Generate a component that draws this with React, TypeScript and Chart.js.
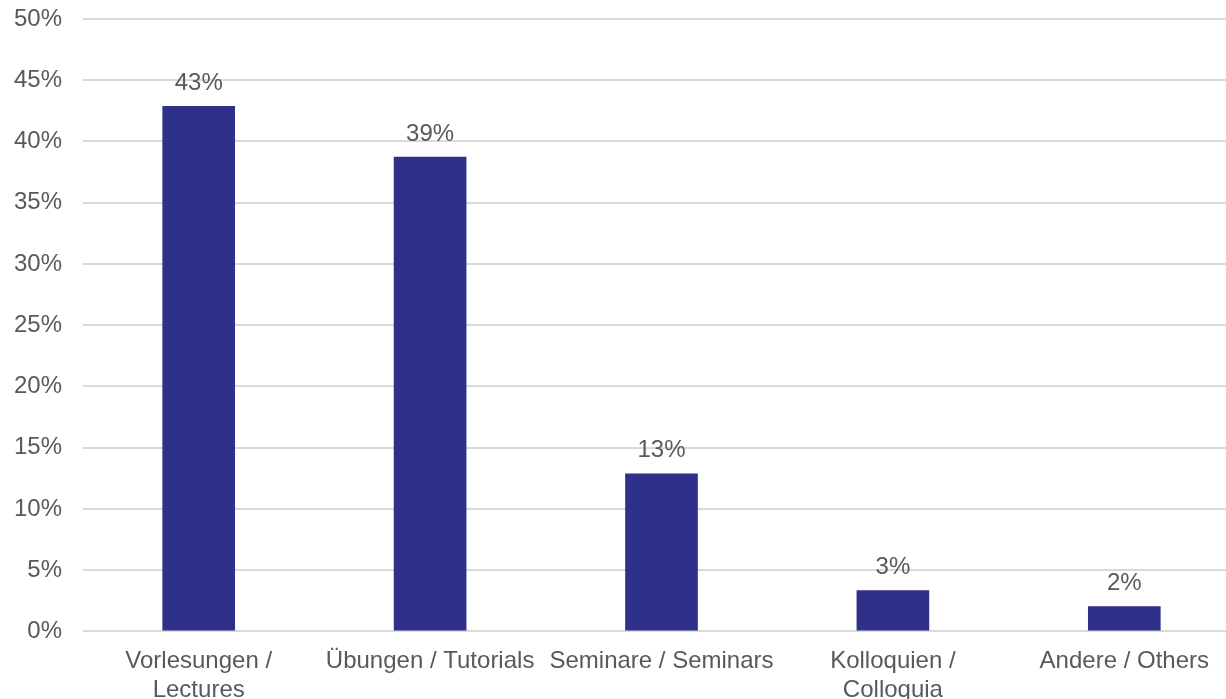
import React, { useEffect, useRef } from "react";
import { Chart, registerables } from "chart.js";

Chart.register(...registerables);

const categories: (string | string[])[] = [
  ["Vorlesungen /", "Lectures"],
  "Übungen / Tutorials",
  "Seminare / Seminars",
  ["Kolloquien /", "Colloquia"],
  "Andere / Others",
];
const values: number[] = [42.9, 38.75, 12.9, 3.35, 2.05];
const valueLabels: string[] = ["43%", "39%", "13%", "3%", "2%"];

const BAR_COLOR = "#2E3089";
const TEXT_COLOR = "#595959";
const GRID_COLOR = "#D9D9D9";
const FONT = "'Liberation Sans', Arial, sans-serif";

const dataLabelPlugin = {
  id: "dataLabels",
  afterDatasetsDraw(chart: any) {
    const ctx = chart.ctx;
    const meta = chart.getDatasetMeta(0);
    ctx.save();
    ctx.fillStyle = TEXT_COLOR;
    ctx.font = `24px ${FONT}`;
    ctx.textAlign = "center";
    ctx.textBaseline = "alphabetic";
    meta.data.forEach((bar: any, i: number) => {
      ctx.fillText(valueLabels[i], bar.x, bar.y - 16);
    });
    ctx.restore();
  },
};

export default function App() {
  const ref = useRef<HTMLCanvasElement | null>(null);
  useEffect(() => {
    if (!ref.current) return;
    const chart = new Chart(ref.current, {
      type: "bar",
      data: {
        labels: categories,
        datasets: [
          {
            data: values,
            backgroundColor: BAR_COLOR,
            borderWidth: 0,
            categoryPercentage: 1,
            barPercentage: 0.314,
          },
        ],
      },
      options: {
        animation: false,
        responsive: false,
        maintainAspectRatio: false,
        layout: { padding: { left: 14, right: 2, top: 19, bottom: 0 } },
        plugins: {
          legend: { display: false },
          tooltip: { enabled: false },
        },
        scales: {
          x: {
            grid: { display: false, drawTicks: false },
            border: { display: false },
            ticks: {
              color: TEXT_COLOR,
              font: { family: FONT, size: 24 },
              padding: 16,
              maxRotation: 0,
              minRotation: 0,
              autoSkip: false,
            },
          },
          y: {
            min: 0,
            max: 50,
            grid: { color: GRID_COLOR, lineWidth: 2, drawTicks: false },
            border: { display: false },
            afterFit: (scale: any) => {
              scale.width = 69;
              scale.paddingTop = 0;
              scale.paddingBottom = 0;
            },
            ticks: {
              stepSize: 5,
              color: TEXT_COLOR,
              font: { family: FONT, size: 24 },
              padding: 21,
              callback: (v: any) => `${v}%`,
            },
          },
        },
      },
      plugins: [dataLabelPlugin],
    });
    return () => chart.destroy();
  }, []);
  return (
    <div
      style={{
        position: "absolute",
        left: 0,
        top: 0,
        width: 1226,
        height: 699,
        overflow: "hidden",
        background: "#fff",
      }}
    >
      <canvas ref={ref} width={1242} height={721} style={{ display: "block" }} />
    </div>
  );
}
